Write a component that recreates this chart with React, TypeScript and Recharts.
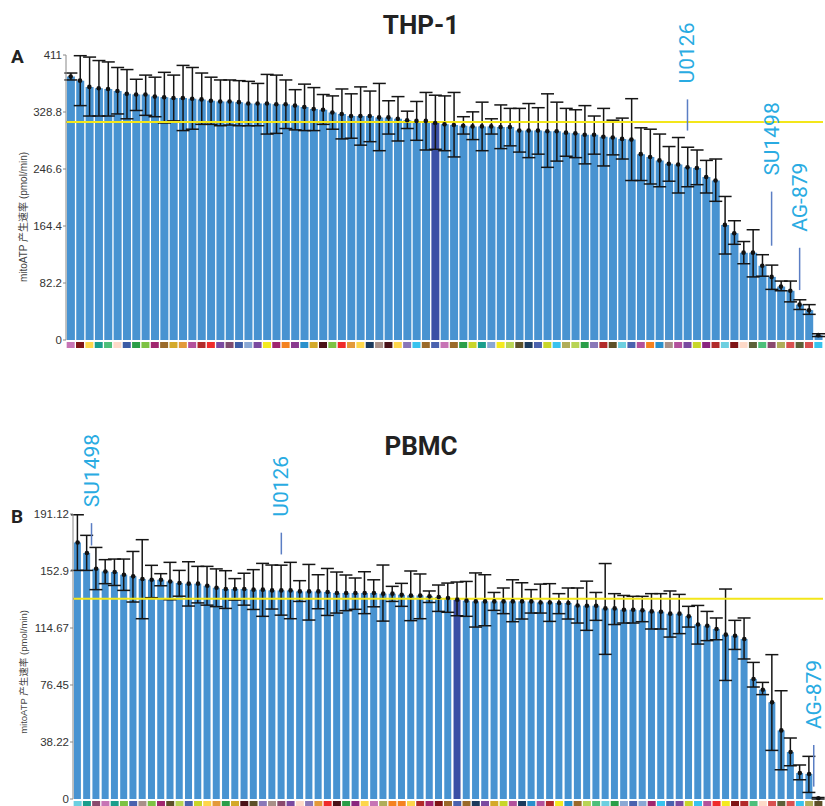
import React from "react";
import {
  ComposedChart,
  Bar,
  Line,
  XAxis,
  YAxis,
  ErrorBar,
  Cell,
  ReferenceLine,
} from "recharts";

// THP-1 panel (A): bar means with upper / lower error limits
const thpMean = [
  380, 374, 365, 363, 362, 359, 355, 354, 354, 351, 350, 349, 349, 348, 347, 345, 344, 344, 343, 341,
  341, 341, 340, 340, 338, 336, 333, 332, 328, 326, 323, 323, 323, 321, 321, 319, 317, 316, 316, 313,
  311, 310, 309, 308, 308, 308, 307, 307, 302, 302, 302, 301, 301, 299, 298, 296, 296, 293, 292, 290,
  289, 268, 264, 259, 254, 253, 249, 248, 235, 230, 166, 154, 126, 126, 107, 91, 77, 71, 51, 43, 7,
];
const thpHi = [
  385, 410, 408, 403, 401, 393, 390, 376, 382, 379, 386, 382, 396, 393, 385, 379, 375, 375, 374, 373,
  370, 383, 382, 375, 361, 369, 364, 354, 352, 362, 355, 365, 359, 370, 345, 351, 330, 344, 357, 353,
  352, 357, 322, 329, 343, 319, 339, 334, 334, 341, 335, 355, 343, 334, 332, 338, 323, 334, 317, 320,
  348, 306, 304, 297, 279, 292, 278, 274, 259, 261, 207, 172, 142, 159, 123, 108, 85, 85, 58, 51, 9,
];
const thpLo = [
  375, 338, 323, 323, 323, 326, 319, 331, 324, 322, 313, 316, 302, 304, 311, 311, 309, 310, 309, 309,
  309, 297, 298, 305, 303, 302, 302, 311, 304, 290, 291, 281, 286, 273, 297, 287, 305, 288, 274, 275,
  273, 264, 297, 289, 273, 297, 276, 280, 271, 263, 268, 249, 258, 265, 263, 254, 268, 251, 267, 261,
  230, 230, 225, 221, 229, 212, 221, 224, 212, 200, 124, 138, 110, 91, 92, 73, 71, 55, 44, 37, 5,
];
const thpColors = [
  "#c774b5", "#7f1416", "#fdd64b", "#1a9e8c", "#4dbf7a", "#fdd9c8", "#3b5ba5", "#2a9e48", "#7dc243", "#a0266f",
  "#9a6a2a", "#d4a92a", "#e39a3a", "#b3519c", "#b22a2a", "#ef2b2b", "#7a4aa0", "#7e4b6e", "#3c5da6", "#8aa8d4",
  "#7a4aa0", "#f4ea1f", "#a0266f", "#f48220", "#8a3a8f", "#2a90cc", "#d4a92a", "#4a1218", "#7dc243", "#ef2b2b",
  "#e39a3a", "#fdd64b", "#1b3a5c", "#a89088", "#4a1218", "#fdd64b", "#8a78b8", "#38c3ee", "#9a6a2a", "#4a62ae",
  "#c774b5", "#9a6a2a", "#2a9e48", "#c8d62a", "#1a9e8c", "#8aa8d4", "#f4ea1f", "#b8d454", "#5c5028", "#1b3a5c",
  "#4a62ae", "#c8d62a", "#38c3ee", "#b0ad5a", "#b8d454", "#2a9e48", "#8a78b8", "#b22a2a", "#5c5028", "#6ccfe0",
  "#4a62ae", "#b3519c", "#f48220", "#2a90cc", "#a89088", "#b3519c", "#7a4aa0", "#c8d62a", "#8a267f", "#b22a2a",
  "#6ccfe0", "#7f1416", "#fdd9c8", "#5c6038", "#4dbf7a", "#8a4a6e", "#b0ad5a", "#d85050", "#5c6038", "#d85050",
  "#38c3ee",
];
const thpTicks = [0, 82.2, 164.4, 246.6, 328.8, 411];
const thpAvg = 314.5;
const thpDark = 40;
const thpMarks = ["U0126", "SU1498", "AG-879"];
const thpMarkBar = [67, 76, 79];
const thpMarkLo = [302, 136, 72];
const thpMarkHi = [347, 214, 133];

// PBMC panel (B)
const pbmcMean = [
  172, 165, 154.4, 152.6, 152.2, 150.4, 149.3, 147.5, 147, 147, 145.9, 144.8, 144.4, 144.4, 143, 141.7, 140.8, 140.8, 140.8, 140.4,
  140.4, 139.9, 139.9, 139.9, 139.2, 139.2, 139.2, 138.8, 138.1, 138.1, 138.1, 138.1, 138.1, 137.7, 137.7, 137, 136.5, 136.5, 135.9, 135.5,
  134.8, 133.7, 133, 132.5, 132.5, 132.5, 132.5, 132.5, 132.5, 132.5, 131.8, 131.8, 131.4, 131.4, 129.8, 129.6, 129.6, 127.8, 127.8, 126.9,
  126.9, 126.5, 125.8, 125.6, 124.3, 124.3, 122.5, 117, 116.2, 114, 110.2, 109.5, 107.3, 80.5, 73.3, 64.8, 46, 31.5, 17.4, 16.8, 0.5,
];
const pbmcHi = [
  190.6, 176.8, 168.7, 160.5, 160.9, 160.9, 166, 173.9, 156.7, 151.1, 158.7, 153.3, 159.1, 156, 156, 154.3, 153.1, 147.8, 151.4, 153.8,
  158, 156.9, 156.8, 158.7, 146.4, 157.3, 150.4, 154.6, 152.2, 150.2, 148.2, 152.4, 147, 156.9, 142.6, 144.6, 152.9, 150.9, 139.5, 143.5,
  144.8, 145.5, 145.9, 151.6, 150.4, 138.5, 141.5, 147, 145, 140.4, 144.1, 144.4, 137.7, 141.5, 141.5, 146.1, 138.5, 157.9, 137.7, 136.5,
  135.9, 135.9, 137.7, 137.7, 139.5, 137.2, 129.2, 129.8, 125.8, 121.4, 140.8, 119.8, 121.4, 91.6, 78.2, 96.8, 72.6, 40.9, 22.8, 28.6, 1,
];
const pbmcLo = [
  153.3, 153.3, 140.4, 144.4, 143.2, 139.9, 132.1, 120.9, 135, 143, 133.6, 136, 129.4, 131.5, 130, 129, 127.8, 133.4, 130, 127.1,
  122.5, 127.4, 123.3, 120.9, 132.5, 120, 127.6, 123.1, 124.7, 126.3, 127.2, 124.3, 128.9, 119.3, 132.5, 129.2, 119.6, 120.9, 131.8, 125.8,
  125.2, 122.9, 122.5, 115.3, 116.2, 126.5, 124.3, 118.9, 120.7, 124.7, 124.7, 119.1, 124.3, 120.7, 118, 113.1, 119.8, 97, 117, 118,
  118, 118.9, 114, 114, 108.6, 110.9, 115.3, 103.9, 106.2, 106.8, 79.5, 100.3, 93.9, 75.1, 70, 32.6, 19.6, 22.3, 12.9, 4.4, 0,
];
const pbmcColors = [
  "#6ccfe0", "#1a9e8c", "#8a4a6e", "#c774b5", "#1a9e8c", "#7dc243", "#4a62ae", "#a89088", "#7dc243", "#a0266f",
  "#5c5028", "#b8d454", "#4a62ae", "#c8d62a", "#fdd64b", "#e39a3a", "#2a9e48", "#d4a92a", "#4a1218", "#5c5028",
  "#8a78b8", "#a89088", "#8a4a6e", "#7a4aa0", "#fdd9c8", "#8a78b8", "#e39a3a", "#ef2b2b", "#4a1218", "#2a9e48",
  "#8a267f", "#fdd64b", "#c774b5", "#b0ad5a", "#f48220", "#f48220", "#fdd64b", "#b22a2a", "#a0266f", "#7f1416",
  "#9a6a2a", "#4a62ae", "#9a6a2a", "#1b3a5c", "#7a4aa0", "#d4a92a", "#c8d62a", "#b3519c", "#1b3a5c", "#2a90cc",
  "#b3519c", "#b22a2a", "#f4ea1f", "#2a90cc", "#9a6a2a", "#b8d454", "#4dbf7a", "#6ccfe0", "#2a9e48", "#8aa8d4",
  "#4a62ae", "#8aa8d4", "#a0266f", "#38c3ee", "#4a62ae", "#7a4aa0", "#c8d62a", "#38c3ee", "#b3519c", "#ef2b2b",
  "#f4ea1f", "#7f1416", "#b22a2a", "#4dbf7a", "#fdd9c8", "#d85050", "#5c6038", "#d85050", "#38c3ee", "#b0ad5a",
  "#5c5028",
];
const pbmcTicks = [0, 38.22, 76.45, 114.67, 152.9, 191.12];
const pbmcAvg = 134.3;
const pbmcDark = 42;
const pbmcMarks = ["SU1498", "U0126", "AG-879"];
const pbmcMarkBar = [2, 23, 80];
const pbmcMarkPos = ["end", "middle", "end"];
const pbmcMarkLo = [170, 164, 8.3];
const pbmcMarkHi = [185, 178.6, 36.2];

const BAR = "#4893d1";
const DARK = "#3a4fa5";
const TICK_FONT = "'Liberation Sans', Arial, sans-serif";

function makeRows(mean: number[], hi: number[], lo: number[]) {
  return mean.map((m, i) => ({
    name: String(i + 1),
    mean: m,
    err: [m - lo[i], hi[i] - m],
  }));
}

function MarkLabel(props: any) {
  const { viewBox, text } = props;
  const x = viewBox.x;
  const y = viewBox.y - 16;
  return (
    <text
      x={x}
      y={y}
      transform={`rotate(-90 ${x} ${y})`}
      fill="#29abe2"
      fontSize={21}
      fontFamily="Roboto, sans-serif"
      dominantBaseline="central"
      textAnchor="start"
    >
      {text}
    </text>
  );
}

function Panel(props: any) {
  const {
    rows, colors, ticks, max, avg, dark, marks, markBar, markLo, markHi, markPos,
    height, margin, yWidth,
  } = props;
  return (
    <ComposedChart width={825} height={height} data={rows} margin={margin} barCategoryGap={0.9}>
      <XAxis
        dataKey="name"
        interval={0}
        axisLine={false}
        tickLine={false}
        tickSize={0}
        tickMargin={2}
        height={12}
        tick={(p: any) => (
          <rect x={p.x - 4} y={p.y} width={8} height={6} fill={colors[p.index]} />
        )}
      />
      <YAxis
        domain={[0, max]}
        ticks={ticks}
        interval={0}
        width={yWidth}
        axisLine={{ stroke: "#888" }}
        tickLine={{ stroke: "#888" }}
        tickSize={3}
        tickMargin={1}
        tick={{ fontSize: 11.5, fill: "#333", fontFamily: TICK_FONT }}
      />
      <Bar dataKey="mean" fill={BAR} isAnimationActive={false}>
        {rows.map((r: any, i: number) => (
          <Cell key={r.name} fill={i + 1 === dark ? DARK : BAR} />
        ))}
        <ErrorBar dataKey="err" width={6.5} stroke="#151515" strokeWidth={1.5} isAnimationActive={false} />
      </Bar>
      <ReferenceLine y={avg} stroke="#f3e61a" strokeWidth={2} />
      <Line
        dataKey="mean"
        stroke="none"
        dot={{ r: 2.3, fill: "#111", stroke: "none" }}
        activeDot={false}
        isAnimationActive={false}
      />
      {marks.map((m: string, i: number) => (
        <ReferenceLine
          key={m}
          ifOverflow="visible"
          position={markPos ? markPos[i] : "middle"}
          segment={[
            { x: String(markBar[i]), y: markLo[i] },
            { x: String(markBar[i]), y: markHi[i] },
          ]}
          stroke="#5b7ec4"
          strokeWidth={1.5}
          label={<MarkLabel text={m} />}
        />
      ))}
    </ComposedChart>
  );
}

export default function App() {
  const thpRows = makeRows(thpMean, thpHi, thpLo);
  const pbmcRows = makeRows(pbmcMean, pbmcHi, pbmcLo);
  return (
    <div style={{ position: "relative", width: 825, height: 806, overflow: "hidden", background: "#fff" }}>
      <style>{"body{margin:0}"}</style>
      <div style={{ position: "absolute", left: 0, top: 0 }}>
        <Panel
          rows={thpRows}
          colors={thpColors}
          ticks={thpTicks}
          max={411}
          avg={thpAvg}
          dark={thpDark}
          marks={thpMarks}
          markBar={thpMarkBar}
          markLo={thpMarkLo}
          markHi={thpMarkHi}
          height={360}
          margin={{ top: 55, right: 2, bottom: 8, left: 0 }}
          yWidth={66}
        />
      </div>
      <div style={{ position: "absolute", left: 0, top: 400 }}>
        <Panel
          rows={pbmcRows}
          colors={pbmcColors}
          ticks={pbmcTicks}
          max={191.12}
          avg={pbmcAvg}
          dark={pbmcDark}
          marks={pbmcMarks}
          markBar={pbmcMarkBar}
          markLo={pbmcMarkLo}
          markHi={pbmcMarkHi}
          markPos={pbmcMarkPos}
          height={420}
          margin={{ top: 114, right: 2, bottom: 9, left: 0 }}
          yWidth={73}
        />
      </div>
      <svg
        width={825}
        height={806}
        style={{ position: "absolute", left: 0, top: 0, pointerEvents: "none" }}
      >
        <text x={421} y={34} textAnchor="middle" fontSize={26} fontWeight="bold" fill="#222" fontFamily="Roboto, sans-serif">
          THP-1
        </text>
        <text x={421} y={455} textAnchor="middle" fontSize={26} fontWeight="bold" fill="#222" fontFamily="Roboto, sans-serif">
          PBMC
        </text>
        <text x={11} y={63} fontSize={19} fontWeight="bold" fill="#222" fontFamily="Roboto, sans-serif">
          A
        </text>
        <text x={11} y={523} fontSize={19} fontWeight="bold" fill="#222" fontFamily="Roboto, sans-serif">
          B
        </text>
        <text
          x={23}
          y={217}
          transform="rotate(-90 23 217)"
          textAnchor="middle"
          dominantBaseline="central"
          fontSize={10}
          fill="#444"
          fontFamily="'Liberation Sans', 'Noto Sans CJK SC', sans-serif"
        >
          mitoATP 产生速率 (pmol/min)
        </text>
        <text
          x={23}
          y={672}
          transform="rotate(-90 23 672)"
          textAnchor="middle"
          dominantBaseline="central"
          fontSize={9.5}
          fill="#444"
          fontFamily="'Liberation Sans', 'Noto Sans CJK SC', sans-serif"
        >
          mitoATP 产生速率 (pmol/min)
        </text>
      </svg>
    </div>
  );
}
